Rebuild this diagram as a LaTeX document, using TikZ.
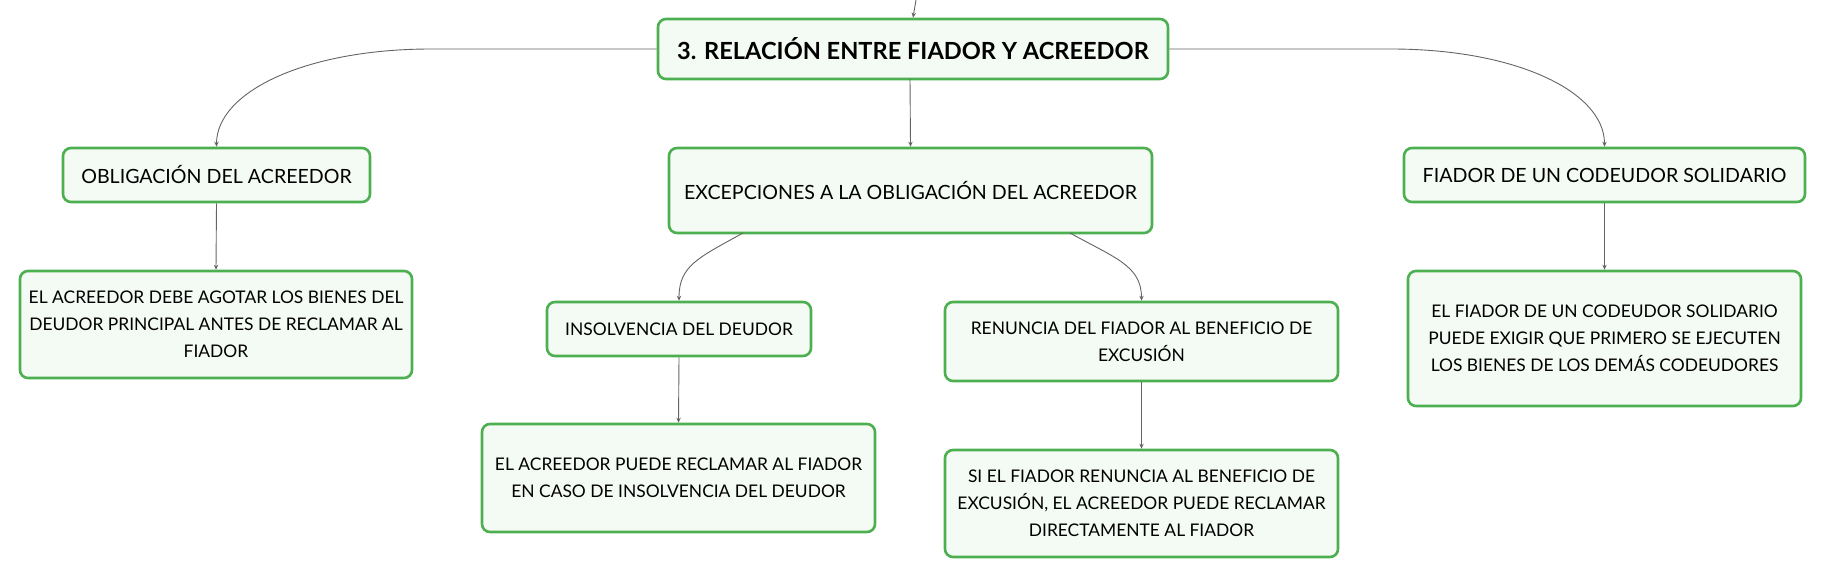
\documentclass[tikz,border=0pt]{standalone}
\usepackage{fontspec}
\setmainfont{Lato}
\usetikzlibrary{arrows.meta,positioning}
\definecolor{boxgreen}{RGB}{76,175,80}
\definecolor{boxfill}{RGB}{244,250,244}
\definecolor{linkgray}{RGB}{100,100,100}
\tikzset{
    idea/.style={draw=boxgreen,line width=1.3pt,fill=boxfill,rounded corners=4pt,
                 align=center,inner sep=0pt,font=\fontsize{8.7}{13.6}\selectfont},
    branch/.style={idea,font=\fontsize{9.8}{13.6}\selectfont},
    topic/.style={idea,font=\fontsize{11.8}{14}\selectfont\bfseries},
    conn/.style={linkgray,line width=0.45pt,-{Stealth[length=2.5pt,width=2.2pt]}}
}
\begin{document}
\begin{tikzpicture}[x=0.5pt,y=-0.5pt]
            \useasboundingbox (0,0) rectangle (1826,577);
                % main topic
                \node[topic,minimum width=255pt,minimum height=30pt] (rel) at (913,49) {3. RELACIÓN ENTRE FIADOR Y ACREEDOR};
                \coordinate (up) at (916,0);
                \draw[conn] (up) -- (rel.north);

                % left branch
                \node[branch,minimum width=153.5pt,minimum height=27pt] (oblig) at (216.5,175) {OBLIGACIÓN DEL ACREEDOR};
                \node[idea,minimum width=196pt,minimum height=53.5pt] (agotar) at (216,324.5) {EL ACREEDOR DEBE AGOTAR LOS BIENES DEL\\DEUDOR PRINCIPAL ANTES DE RECLAMAR AL\\FIADOR};
                \draw[conn] (rel.west) -- (431,49) .. controls +(-125,0) and +(0,-55) .. (oblig.north);
                \draw[conn] (oblig.south) -- (agotar.north);

                % middle branch
                \node[branch,minimum width=241.5pt,minimum height=42.5pt] (excep) at (910.5,190.5) {EXCEPCIONES A LA OBLIGACIÓN DEL ACREEDOR};
                \node[idea,minimum width=132pt,minimum height=27pt] (insol) at (679,329) {INSOLVENCIA DEL DEUDOR};
                \node[idea,minimum width=196.5pt,minimum height=54pt] (reclamar) at (678.5,478) {EL ACREEDOR PUEDE RECLAMAR AL FIADOR\\EN CASO DE INSOLVENCIA DEL DEUDOR};
                \node[idea,minimum width=196.5pt,minimum height=39.5pt] (renun) at (1141.5,341.5) {RENUNCIA DEL FIADOR AL BENEFICIO DE\\EXCUSIÓN};
                \node[idea,minimum width=196.5pt,minimum height=53.5pt] (directo) at (1141.5,503.5) {SI EL FIADOR RENUNCIA AL BENEFICIO DE\\EXCUSIÓN, EL ACREEDOR PUEDE RECLAMAR\\DIRECTAMENTE AL FIADOR};
                \draw[conn] (910,79) -- (excep.north);
                \draw[conn] (743,233) .. controls +(-45,25) and +(0,-35) .. (insol.north);
                \draw[conn] (1070,233) .. controls +(45,25) and +(0,-35) .. (renun.north);
                \draw[conn] (insol.south) -- (reclamar.north);
                \draw[conn] (renun.south) -- (directo.north);

                % right branch
                \node[branch,minimum width=200.5pt,minimum height=27pt] (codeu) at (1604.5,175) {FIADOR DE UN CODEUDOR SOLIDARIO};
                \node[idea,minimum width=196.5pt,minimum height=67.5pt] (exigir) at (1604.5,338.5) {EL FIADOR DE UN CODEUDOR SOLIDARIO\\PUEDE EXIGIR QUE PRIMERO SE EJECUTEN\\LOS BIENES DE LOS DEMÁS CODEUDORES};
                \draw[conn] (rel.east) -- (1391,49) .. controls +(125,0) and +(0,-55) .. (codeu.north);
                \draw[conn] (codeu.south) -- (exigir.north);
\end{tikzpicture}
\end{document}
